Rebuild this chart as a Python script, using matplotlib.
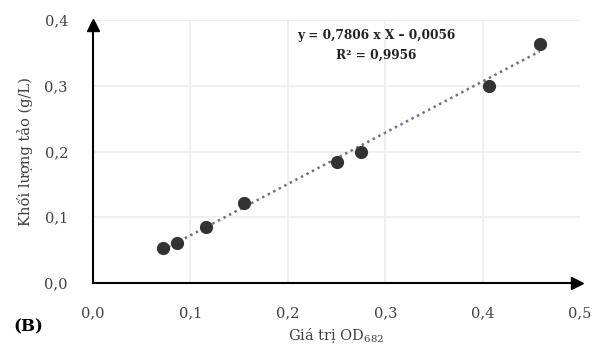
import matplotlib.pyplot as plt
import numpy as np

od = [0.0715, 0.0858, 0.1156, 0.155, 0.2506, 0.2746, 0.4065, 0.4585]
mass = [0.0528, 0.0613, 0.0857, 0.121, 0.1846, 0.1994, 0.2998, 0.3642]
slope, intercept = 0.7806, -0.0056
xticks = [0.0, 0.1, 0.2, 0.3, 0.4, 0.5]
yticks = [0.0, 0.1, 0.2, 0.3, 0.4]

plt.rcParams['font.family'] = ['DejaVu Serif']
plt.rcParams['mathtext.fontset'] = 'dejavuserif'

fig = plt.figure(figsize=(5.92, 3.47), dpi=100)
ax = fig.add_axes([0.157, 0.1844, 0.823, 0.758])
ax.set_xlim(0, 0.5)
ax.set_ylim(0, 0.4)

for v in xticks[1:-1]:
    ax.axvline(v, color='#ececec', lw=1.2, zorder=0)
for v in yticks[1:]:
    ax.axhline(v, color='#ececec', lw=1.2, zorder=0)

xs = np.array([min(od), max(od)])
ax.plot(xs, slope * xs + intercept, linestyle=(0, (1, 1.5)), color='#6e7388', lw=1.8, zorder=2)
ax.scatter(od, mass, s=72, color='#333333', zorder=3)

for s in ['top', 'right']:
    ax.spines[s].set_visible(False)
for s in ['left', 'bottom']:
    ax.spines[s].set_linewidth(1.5)
    ax.spines[s].set_color('black')
ax.spines['bottom'].set_bounds(0, 0.497)
ax.spines['left'].set_bounds(0, 0.392)
ax.plot([0.497], [0], marker='>', color='black', ms=8, clip_on=False)
ax.plot([0], [0.392], marker='^', color='black', ms=8, clip_on=False)

ax.set_xticks(xticks)
ax.set_yticks(yticks)
ax.set_xticklabels([f"{v:.1f}".replace('.', ',') for v in xticks])
ax.set_yticklabels([f"{v:.1f}".replace('.', ',') for v in yticks])
ax.tick_params(length=0, labelsize=10.5, colors='#404040')
ax.tick_params(axis='x', pad=17)
ax.tick_params(axis='y', pad=18)

ax.set_xlabel('Giá trị OD$_{682}$', fontsize=10.5, color='#404040', labelpad=4)
ax.set_ylabel('Khối lượng tảo (g/L)', fontsize=10.5, color='#404040', labelpad=8)

ax.text(0.291, 0.376, 'y = 0,7806 x X – 0,0056', fontsize=8.7, fontweight='bold',
        color='#222222', ha='center', va='center')
ax.text(0.291, 0.346, 'R² = 0,9956', fontsize=8.7, fontweight='bold',
        color='#222222', ha='center', va='center')

fig.text(13/592, 1 - 327/347, '(B)', fontsize=12, fontweight='bold', ha='left', va='center')

fig.savefig('out.png', dpi=100)
